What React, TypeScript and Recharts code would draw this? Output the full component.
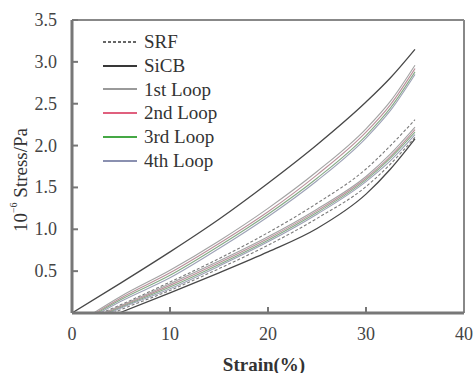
import React from 'react';
import { LineChart, Line, XAxis, YAxis, ReferenceLine, Legend, Label } from 'recharts';

const FONT = "'Times New Roman', Times, 'Liberation Serif', Tinos, 'DejaVu Serif', 'Noto Serif', serif";

const xTicks = [0, 10, 20, 30, 40];
const yTicks = [0.5, 1, 1.5, 2, 2.5, 3, 3.5];

// SiCB
const sicbLoadStrain = [0, 5, 10, 15, 20, 25, 30, 32.5, 35];
const sicbLoadStress = [0, 0.36, 0.73, 1.12, 1.55, 2.01, 2.52, 2.81, 3.15];
const sicbUnloadStrain = [4.8, 10, 15, 20, 25, 30, 32.5, 35];
const sicbUnloadStress = [0, 0.24, 0.48, 0.73, 1.01, 1.42, 1.72, 2.08];

// SRF
const srfLoadStrain = [3.0, 5, 10, 15, 20, 25, 30, 32.5, 35];
const srfLoadStress = [0, 0.1, 0.37, 0.65, 0.96, 1.31, 1.72, 2.0, 2.31];
const srfUnloadStrain = [4.2, 5, 10, 15, 20, 25, 30, 32.5, 35];
const srfUnloadStress = [0, 0.04, 0.27, 0.53, 0.81, 1.13, 1.51, 1.78, 2.1];

// Loops (upper branch)
const loop1UpStrain = [2.2, 5, 10, 15, 20, 25, 30, 32.5, 35];
const loop1UpStress = [0, 0.2, 0.51, 0.86, 1.25, 1.69, 2.2, 2.53, 2.96];
const loop2UpStrain = [2.4, 5, 10, 15, 20, 25, 30, 32.5, 35];
const loop2UpStress = [0, 0.18, 0.48, 0.83, 1.21, 1.65, 2.16, 2.49, 2.92];
const loop3UpStrain = [2.6, 5, 10, 15, 20, 25, 30, 32.5, 35];
const loop3UpStress = [0, 0.16, 0.45, 0.8, 1.18, 1.61, 2.12, 2.45, 2.88];
const loop4UpStrain = [2.8, 5, 10, 15, 20, 25, 30, 32.5, 35];
const loop4UpStress = [0, 0.14, 0.42, 0.77, 1.15, 1.58, 2.09, 2.42, 2.85];

// Loops (lower branch)
const loop1LowStrain = [3.2, 5, 10, 15, 20, 25, 30, 32.5, 35];
const loop1LowStress = [0, 0.09, 0.35, 0.62, 0.91, 1.24, 1.63, 1.9, 2.22];
const loop2LowStrain = [3.4, 5, 10, 15, 20, 25, 30, 32.5, 35];
const loop2LowStress = [0, 0.08, 0.33, 0.6, 0.89, 1.22, 1.61, 1.87, 2.19];
const loop3LowStrain = [3.6, 5, 10, 15, 20, 25, 30, 32.5, 35];
const loop3LowStress = [0, 0.07, 0.31, 0.58, 0.87, 1.2, 1.59, 1.85, 2.16];
const loop4LowStrain = [3.8, 5, 10, 15, 20, 25, 30, 32.5, 35];
const loop4LowStress = [0, 0.06, 0.29, 0.56, 0.85, 1.18, 1.57, 1.82, 2.13];

const seriesNames = ['SRF', 'SiCB', '1st Loop', '2nd Loop', '3rd Loop', '4th Loop'];
const seriesColors = ['#666666', '#383838', '#9a9a9a', '#e0607e', '#45a845', '#8a90b0'];
const lineColors = ['#7a7a7a', '#484848', '#a3a3a3', '#b9909a', '#86aa86', '#9da2b6'];
const seriesDash = ['3 2', '', '', '', '', ''];

const toPts = (xs: number[], ys: number[]) => xs.map((x, i) => ({ x, y: ys[i] }));

const curves = [
  { s: 0, pts: toPts(srfLoadStrain, srfLoadStress) },
  { s: 0, pts: toPts(srfUnloadStrain, srfUnloadStress) },
  { s: 2, pts: toPts(loop1UpStrain, loop1UpStress) },
  { s: 2, pts: toPts(loop1LowStrain, loop1LowStress) },
  { s: 3, pts: toPts(loop2UpStrain, loop2UpStress) },
  { s: 3, pts: toPts(loop2LowStrain, loop2LowStress) },
  { s: 4, pts: toPts(loop3UpStrain, loop3UpStress) },
  { s: 4, pts: toPts(loop3LowStrain, loop3LowStress) },
  { s: 5, pts: toPts(loop4UpStrain, loop4UpStress) },
  { s: 5, pts: toPts(loop4LowStrain, loop4LowStress) },
  { s: 1, pts: toPts(sicbLoadStrain, sicbLoadStress) },
  { s: 1, pts: toPts(sicbUnloadStrain, sicbUnloadStress) },
];

const AXIS = '#777777';

const YTick = (props: any) => {
  const { x, y, payload } = props;
  return (
    <g>
      <line x1={x} x2={x + 6} y1={y} y2={y} stroke={AXIS} strokeWidth={2} />
      <text x={x - 15} y={y} textAnchor="end" dominantBaseline="central" fontSize={18} fill="#444" fontFamily={FONT}>
        {Number(payload.value).toFixed(1)}
      </text>
    </g>
  );
};

const XTick = (props: any) => {
  const { x, y, payload } = props;
  const v = payload.value;
  return (
    <g>
      {v !== 0 && v !== 40 ? (
        <line x1={x} x2={x} y1={y} y2={y - 6} stroke={AXIS} strokeWidth={2} />
      ) : null}
      <text x={x} y={y + 21} textAnchor="middle" dominantBaseline="central" fontSize={18} fill="#444" fontFamily={FONT}>
        {v}
      </text>
    </g>
  );
};

const XLabel = (props: any) => {
  const vb = props.viewBox;
  const cx = vb.x + vb.width / 2 - 4;
  return (
    <text x={cx} y={vb.y + 51} textAnchor="middle" dominantBaseline="central" fontSize={19} fontWeight="bold" fill="#333" fontFamily={FONT}>
      Strain(%)
    </text>
  );
};

const YLabel = (props: any) => {
  const vb = props.viewBox;
  const cx = vb.x + 20;
  const cy = 180;
  return (
    <text x={cx} y={cy} transform={`rotate(-90, ${cx}, ${cy})`} textAnchor="middle" dominantBaseline="central" fontSize={19} fill="#333" fontFamily={FONT}>
      10<tspan fontSize={10} dy={-7}>−6</tspan><tspan dy={7}> Stress/Pa</tspan>
    </text>
  );
};

const LegendBox = () => (
  <div style={{ fontFamily: FONT, fontSize: 19, color: '#333', lineHeight: '23.8px' }}>
    {seriesNames.map((n, i) => (
      <div key={n} style={{ display: 'flex', alignItems: 'center', height: 23.8 }}>
        <svg width={38} height={10} style={{ marginRight: 3 }}>
          <line x1={0} x2={34} y1={5} y2={5} stroke={seriesColors[i]} strokeWidth={i === 1 ? 2.2 : 1.8} strokeDasharray={seriesDash[i] || undefined} />
        </svg>
        <span>{n}</span>
      </div>
    ))}
  </div>
);

export default function App() {
  return (
    <div style={{ position: 'fixed', left: 0, top: 0, width: 476, height: 373, background: '#fff', fontFamily: FONT }}>
      <LineChart width={476} height={373} margin={{ top: 20, right: 12, left: 0, bottom: 0 }}>
        <XAxis
          type="number"
          dataKey="x"
          domain={[0, 40]}
          ticks={xTicks}
          interval={0}
          allowDataOverflow
          height={60}
          axisLine={{ stroke: AXIS, strokeWidth: 3 }}
          tickLine={false}
          tickSize={0}
          tickMargin={0}
          tick={<XTick />}
        >
          <Label content={<XLabel />} />
        </XAxis>
        <YAxis
          type="number"
          dataKey="y"
          domain={[0, 3.5]}
          ticks={yTicks}
          interval={0}
          allowDataOverflow
          width={72}
          axisLine={{ stroke: AXIS, strokeWidth: 3 }}
          tickLine={false}
          tickSize={0}
          tickMargin={0}
          tick={<YTick />}
        >
          <Label content={<YLabel />} />
        </YAxis>
        <ReferenceLine y={3.5} stroke="#888" strokeWidth={2} />
        <ReferenceLine x={40} stroke="#888" strokeWidth={2} />
        {curves.map((c, i) => (
          <Line
            key={i}
            data={c.pts}
            dataKey="y"
            name={seriesNames[c.s]}
            type="monotone"
            stroke={lineColors[c.s]}
            strokeWidth={c.s === 1 ? 1.3 : 1.1}
            strokeDasharray={seriesDash[c.s] || undefined}
            dot={false}
            activeDot={false}
            isAnimationActive={false}
          />
        ))}
        <Legend
          layout="vertical"
          align="center"
          verticalAlign="middle"
          content={<LegendBox />}
          wrapperStyle={{ left: 103, top: 30, width: 140 }}
        />
      </LineChart>
    </div>
  );
}
